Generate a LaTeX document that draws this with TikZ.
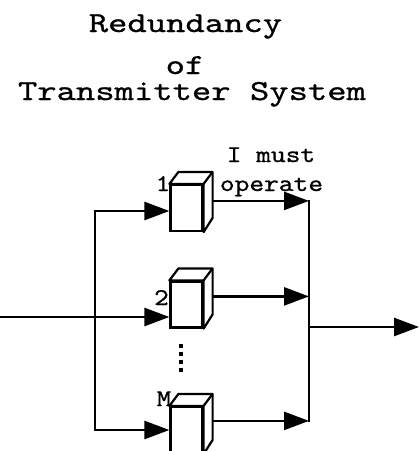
\documentclass[tikz,border=0pt]{standalone}
\usepackage{fontspec}
\newfontfamily\courT[FakeStretch=1.27,FakeBold=0.8]{lmmono10-regular.otf}
\newfontfamily\courS[FakeStretch=1.17,FakeBold=0.8]{lmmono10-regular.otf}
\usetikzlibrary{arrows.meta,calc}
\begin{document}
\begin{tikzpicture}[x=1pt,y=-1pt,
  conn/.style={line width=2.6pt},
  arr/.style={-{Triangle[length=25pt,width=18pt]}},
  frontface/.style={draw,fill=white,line width=2.2pt,minimum width=32pt,minimum height=46pt,inner sep=0pt},
  boxline/.style={line width=2.2pt,fill=white,line join=round},
  title/.style={font=\fontsize{29}{29}\selectfont\courT,inner sep=0pt,anchor=base},
  lab/.style={font=\fontsize{24}{24}\selectfont\courS,inner sep=0pt,anchor=base}]
\useasboundingbox[fill=white] (0,0) rectangle (419,451);
% title
\node[title] (t1) at (185.5,32) {Redundancy};
\node[title] (t2) at (185,74) {of};
\node[title] (t3) at (192,100) {Transmitter System};
% boxes
\node[frontface] (b1) at (186.5,208) {};
\node[frontface] (b2) at (186.5,304.5) {};
\node[frontface] (bM) at (186.5,430) {};
\foreach \b in {b1,b2,bM}{
  \draw[boxline] (\b.north west) -- ++(9,-12) -- ($(\b.north east)+(9,-12)$) -- ($(\b.north east)+(9,34)$) -- (\b.south east) -- (\b.north east) -- cycle;
  \draw[boxline] (\b.north east) -- ++(9,-12);
}
% labels
\node[lab] (l1) at (163,191) {1};
\node[lab] (l2) at (161.5,305) {2};
\node[lab] (lM) at (164,406) {M};
\node[lab] (op1) at (271,162) {I must};
\node[lab] (op2) at (271.5,191) {operate};
% coordinates
\coordinate (L1) at (95,211);
\coordinate (LM) at (95,430);
\coordinate (in) at (0,317);
\coordinate (rb) at (309,0);
\coordinate (out) at (419,327);
\coordinate (o1) at ($(b1.north east)+(9,17)$);
\coordinate (o2) at ($(b2.north east)+(9,16)$);
\coordinate (oM) at ($(bM.north east)+(9,15)$);
\coordinate (d1) at (181,344);
\coordinate (d2) at (181,372);
% left bus
\draw[conn,line cap=rect] (L1) -- (LM);
\draw[conn,arr] (L1) -- (b1.west |- L1);
\draw[conn,arr] (in) -- (b2.west |- in);
\draw[conn,arr] (LM) -- (bM.west |- LM);
% right bus
\draw[conn,line cap=rect] (o1 -| rb) -- (oM -| rb);
\draw[conn,arr] (o1) -- (o1 -| rb);
\draw[conn,arr] (o2) -- (o2 -| rb);
\draw[conn,arr] (oM) -- (oM -| rb);
\draw[conn,arr] (rb |- out) -- (out);
% dots
\draw[line width=4pt,dash pattern=on 3.5pt off 4.5pt] (d1) -- (d2);
\end{tikzpicture}
\end{document}
